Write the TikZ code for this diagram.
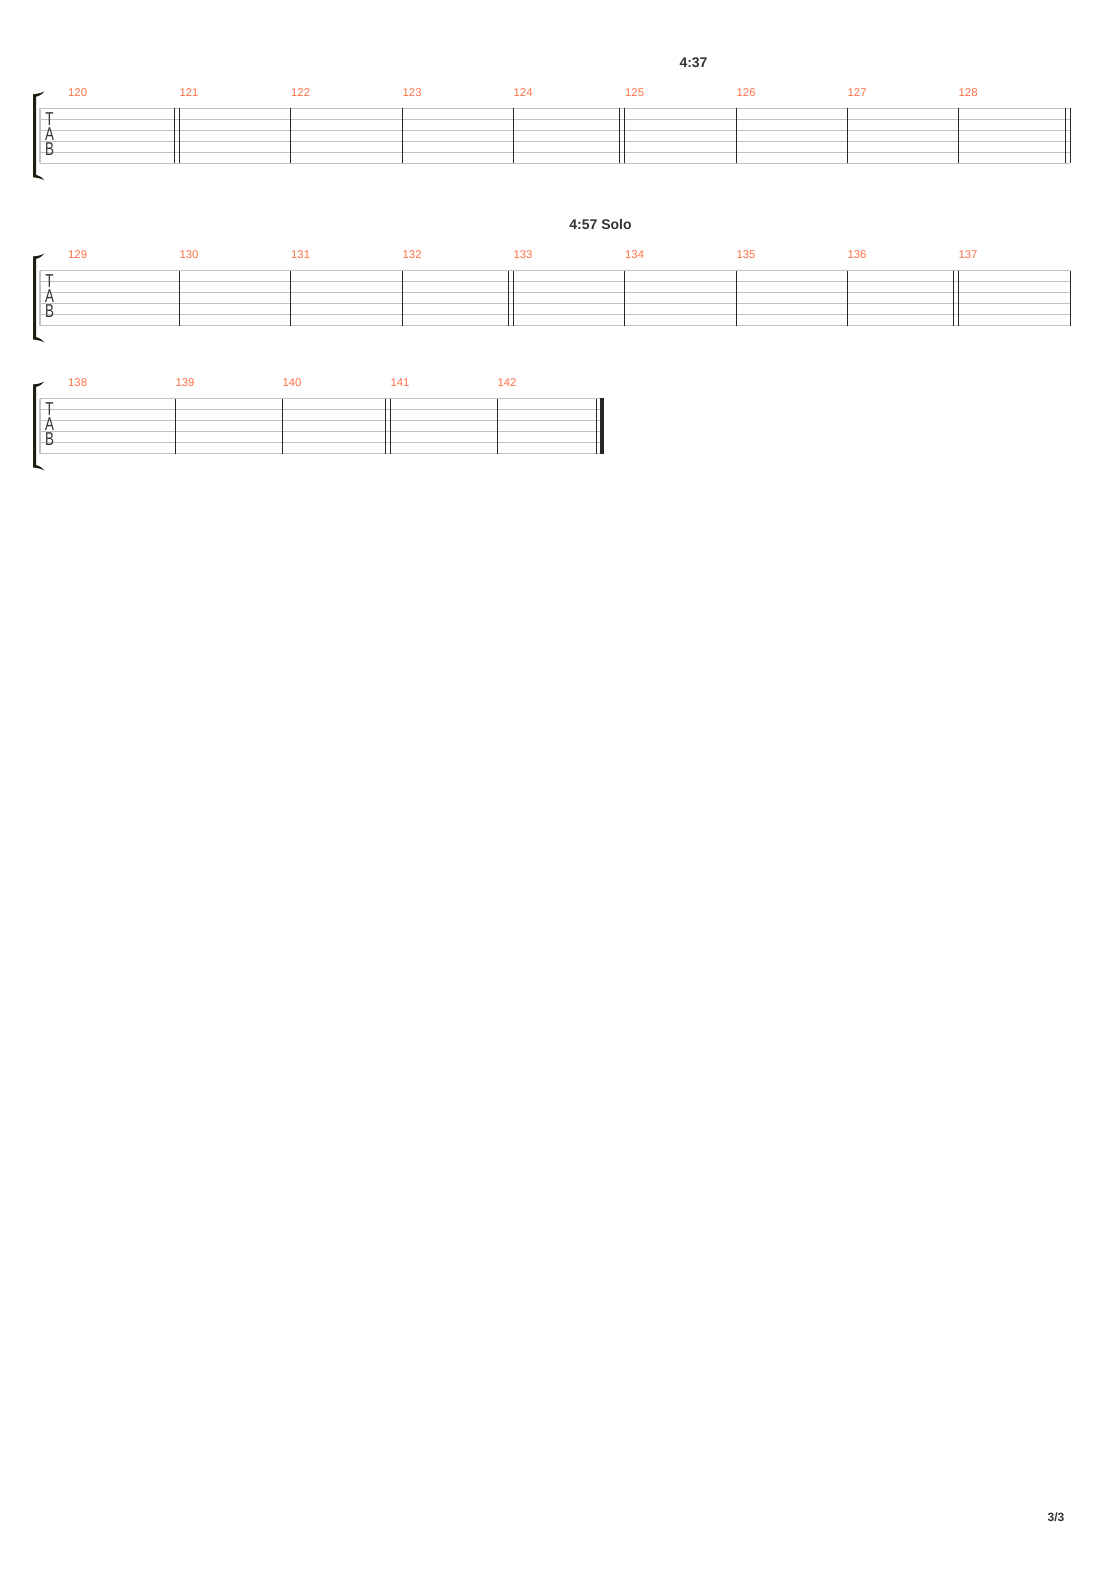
\documentclass[tikz,border=0pt]{standalone}
\usepackage{fontspec}
\setmainfont{Liberation Sans}
\definecolor{staffgray}{HTML}{C2C2C2}
\definecolor{barcol}{HTML}{262626}
\definecolor{numcol}{HTML}{FF6F45}
\definecolor{brk}{HTML}{1E1E12}
\definecolor{titlecol}{HTML}{333333}
\newcommand\mystaff[2]{% #1 = top line y, #2 = right end x
  \foreach \k in {0,...,5}{\draw[staffline] (40,{#1+11*\k}) -- (#2,{#1+11*\k});}
  \draw[draw=staffgray,line width=1.6pt] (40,#1) -- (40,{#1+55});
  \fill[brk] (33,{#1-14}) -- (33,{#1+69})
     .. controls (37,{#1+69.5}) and (41,{#1+70}) .. (44.5,{#1+72})
     .. controls (41,{#1+68}) and (38,{#1+67}) .. (36,{#1+66.5})
     -- (36,{#1-11.5})
     .. controls (38,{#1-12}) and (41,{#1-13}) .. (44.5,{#1-17})
     .. controls (41,{#1-15}) and (37,{#1-14.5}) .. cycle;
}
\begin{document}
\begin{tikzpicture}[x=1pt,y=-1pt,
  staffline/.style={draw=staffgray,line width=0.9pt},
  barline/.style={draw=barcol,line width=1.1pt},
  mnum/.style={text=numcol,font=\fontsize{11.3}{11.3}\selectfont,anchor=west,inner sep=0pt},
  titletext/.style={text=titlecol,font=\bfseries\fontsize{14}{14}\selectfont,inner sep=0pt},
  tabletter/.style={text=titlecol,font=\fontsize{18.6}{18.6}\selectfont,inner sep=0pt},
  pagenum/.style={text=titlecol,font=\bfseries\fontsize{12}{12}\selectfont,inner sep=0pt}]
\useasboundingbox (0,0) rectangle (1110,1570);
\fill[white] (0,0) rectangle (1110,1570);

% ---------- row 1 ----------
\mystaff{108.3}{1070.3}
\foreach \x in {174.3,179.3,290.3,402.3,513.3,619.3,624.3,736.3,847.3,958.3,1065.7,1070.3}
  {\draw[barline] (\x,108.3) -- (\x,163.3);}
\foreach \x/\n in {68/120,179.3/121,291/122,402.5/123,513.5/124,625/125,736.5/126,847.5/127,958.5/128}
  {\node[mnum] (m\n) at (\x,92.3) {\n};}
\node[tabletter] (t1) at (49.5,119.3) {\scalebox{0.72}[1]{T}};
\node[tabletter] (a1) at (49.5,134.3) {\scalebox{0.72}[1]{A}};
\node[tabletter] (b1) at (49.5,149.0) {\scalebox{0.72}[1]{B}};
\node[titletext] (s1) at (693.5,62.5) {4:37};

% ---------- row 2 ----------
\mystaff{270.5}{1070.3}
\foreach \x in {179.3,290.3,402.3,508.7,513.3,624.3,736.3,847.3,953.7,958.3,1070.3}
  {\draw[barline] (\x,270.5) -- (\x,325.5);}
\foreach \x/\n in {68/129,179.3/130,291/131,402.5/132,513.3/133,625/134,736.3/135,847.3/136,958.3/137}
  {\node[mnum] (m\n) at (\x,254.5) {\n};}
\node[tabletter] (t2) at (49.5,281.5) {\scalebox{0.72}[1]{T}};
\node[tabletter] (a2) at (49.5,296.5) {\scalebox{0.72}[1]{A}};
\node[tabletter] (b2) at (49.5,311.2) {\scalebox{0.72}[1]{B}};
\node[titletext] (s2) at (600.5,224.5) {4:57 Solo};

% ---------- row 3 ----------
\mystaff{398.5}{604.3}
\foreach \x in {175.3,282.3,385.3,390.3,497.3,596.7}
  {\draw[barline] (\x,398.5) -- (\x,453.5);}
\fill[barcol] (600.3,398.1) rectangle (604.3,453.9);
\foreach \x/\n in {68/138,175.3/139,282.3/140,390.3/141,497.3/142}
  {\node[mnum] (m\n) at (\x,382.5) {\n};}
\node[tabletter] (t3) at (49.5,409.5) {\scalebox{0.72}[1]{T}};
\node[tabletter] (a3) at (49.5,424.5) {\scalebox{0.72}[1]{A}};
\node[tabletter] (b3) at (49.5,439.2) {\scalebox{0.72}[1]{B}};

% ---------- page number ----------
\node[pagenum] (pg) at (1056,1517) {3/3};
\end{tikzpicture}
\end{document}
